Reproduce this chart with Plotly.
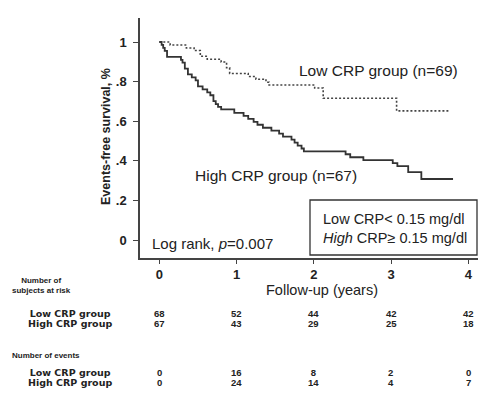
import plotly.graph_objects as go

# ---- data ----
low_t = [0, 0.14, 0.35, 0.45, 0.53, 0.62, 0.80, 0.87, 0.91, 1.15, 1.25, 1.38, 1.42, 2.01, 2.12, 3.07, 3.74]
low_s = [1.0, 0.985, 0.970, 0.957, 0.928, 0.913, 0.899, 0.870, 0.841, 0.826, 0.812, 0.797, 0.783, 0.768, 0.716, 0.652, 0.652]

high_t = [0, 0.03, 0.05, 0.07, 0.10, 0.28, 0.30, 0.33, 0.37, 0.42, 0.47, 0.50, 0.56, 0.62, 0.66, 0.70,
          0.73, 0.76, 0.80, 0.97, 1.09, 1.15, 1.22, 1.27, 1.34, 1.45, 1.55, 1.60, 1.71, 1.75, 1.79,
          1.84, 1.87, 2.41, 2.47, 2.64, 3.02, 3.08, 3.22, 3.39, 3.80]
high_s = [1.0, 0.985, 0.970, 0.955, 0.925, 0.910, 0.896, 0.866, 0.836, 0.821, 0.806, 0.776, 0.761, 0.746,
          0.731, 0.701, 0.686, 0.672, 0.660, 0.642, 0.627, 0.612, 0.597, 0.582, 0.567, 0.552, 0.537,
          0.522, 0.507, 0.492, 0.477, 0.462, 0.448, 0.433, 0.418, 0.403, 0.388, 0.373, 0.343, 0.308, 0.308]

years = [0, 1, 2, 3, 4]
ytick_vals = [0, 0.2, 0.4, 0.6, 0.8, 1.0]
ytick_text = ["0", ".2", ".4", ".6", ".8", "1"]

risk_low = ["68", "52", "44", "42", "42"]
risk_high = ["67", "43", "29", "25", "18"]
events_low = ["0", "16", "8", "2", "0"]
events_high = ["0", "24", "14", "4", "7"]

# ---- layout geometry (page coordinates; the page body has an 8px margin) ----
OFF = 8
W, H = 486 - OFF, 396 - OFF
PLOT_X0, PLOT_X1 = 140, 480      # page px
PLOT_Y0, PLOT_Y1 = 18, 258       # page px (top, bottom)
L = PLOT_X0 - OFF
R = W - (PLOT_X1 - OFF)
T = PLOT_Y0 - OFF
B = H - (PLOT_Y1 - OFF)
PW, PH = PLOT_X1 - PLOT_X0, PLOT_Y1 - PLOT_Y0


def px(x):
    return (x - PLOT_X0) / PW


def py(y):
    return (PLOT_Y1 - y) / PH


FONT = "Arial, 'Liberation Sans', sans-serif"
WIDE = "'DejaVu Sans', Verdana, sans-serif"
TXT = "#222222"

fig = go.Figure()
fig.add_trace(go.Scatter(x=low_t, y=low_s, mode="lines",
                         line=dict(shape="hv", dash="2px,2px", width=1.6, color="#444444"),
                         showlegend=False, hoverinfo="skip"))
fig.add_trace(go.Scatter(x=high_t, y=high_s, mode="lines",
                         line=dict(shape="hv", width=1.8, color="#333333"),
                         showlegend=False, hoverinfo="skip"))

ann = []


def text(x, y, s, size=15, anchor="left", bold=False, xref="paper", family=FONT):
    ann.append(dict(x=x if xref != "paper" else px(x), y=py(y), xref=xref, yref="paper",
                    text=s, showarrow=False, xanchor=anchor, yanchor="middle",
                    font=dict(family=family, size=size, color=TXT,
                              weight="bold" if bold else "normal")))


text(297, 70, "Low CRP group (n=69)", size=15.5)
text(193, 175, "High CRP group (n=67)", size=15.5)
text(150, 243, "Log rank, <i>p</i>=0.007")
text(321, 219, "Low CRP&lt; 0.15 mg/dl", size=14.5)
text(321, 238, "<i>High</i> CRP≥ 0.15 mg/dl", size=14.5)

# axis titles
ann.append(dict(x=px(106), y=py(137), xref="paper", yref="paper", text="Events-free survival, %",
                textangle=-90, showarrow=False, xanchor="center", yanchor="middle",
                font=dict(family=FONT, size=12.5, color=TXT, weight="bold")))
text(322, 290, "Follow-up (years)", size=14.5, anchor="center")


# risk table: two tight rows per block, drawn as one two-line text with a small line pitch
def two_rows(x, yc, a, b, size, anchor, xref="paper", family=FONT):
    s = (f'<span style="font-size:{size}px">{a}</span><br>'
         f'<span style="font-size:{size}px">{b}</span>')
    ann.append(dict(x=x if xref != "paper" else px(x), y=py(yc), xref=xref, yref="paper",
                    text=s, showarrow=False, xanchor=anchor, yanchor="middle",
                    font=dict(family=family, size=8, color=TXT, weight="bold")))


two_rows(10, 285.5, "Number of", "subjects at risk", 8, "left")
two_rows(26, 318, "Low CRP group", "High CRP group", 9.5, "left", family=WIDE)
text(10, 355, "Number of events", size=8, bold=True)
two_rows(26, 377.5, "Low CRP group", "High CRP group", 9.5, "left", family=WIDE)

for yr, a, b in zip(years, risk_low, risk_high):
    two_rows(yr, 318, a, b, 9.5, "center", xref="x")
for yr, a, b in zip(years, events_low, events_high):
    two_rows(yr, 377.5, a, b, 9.5, "center", xref="x")

fig.update_layout(
    width=W, height=H,
    margin=dict(l=L, r=R, t=T, b=B, pad=0),
    paper_bgcolor="white", plot_bgcolor="white",
    annotations=ann,
    shapes=[dict(type="rect", xref="paper", yref="paper",
                 x0=px(310), x1=px(477), y0=py(255), y1=py(200),
                 line=dict(color="#333333", width=1.3), fillcolor="rgba(0,0,0,0)")],
    font=dict(family=FONT, color=TXT),
)
fig.update_xaxes(range=[-0.25, 4.149], tickvals=years, ticktext=[str(v) for v in years],
                 showline=True, linecolor="#444444", linewidth=1.5, ticks="outside", ticklen=4,
                 tickcolor="#444444", tickwidth=1.2, showgrid=False, zeroline=False,
                 tickfont=dict(family=FONT, size=13, color=TXT, weight="bold"))
fig.update_yaxes(range=[-0.0909, 1.1212], tickvals=ytick_vals, ticktext=ytick_text,
                 showline=True, linecolor="#444444", linewidth=1.5, ticks="outside", ticklen=5,
                 tickcolor="#444444", tickwidth=1.2, showgrid=False, zeroline=False,
                 ticklabelstandoff=4,
                 tickfont=dict(family=FONT, size=13, color=TXT, weight="bold"))

fig.write_html("out.html")
